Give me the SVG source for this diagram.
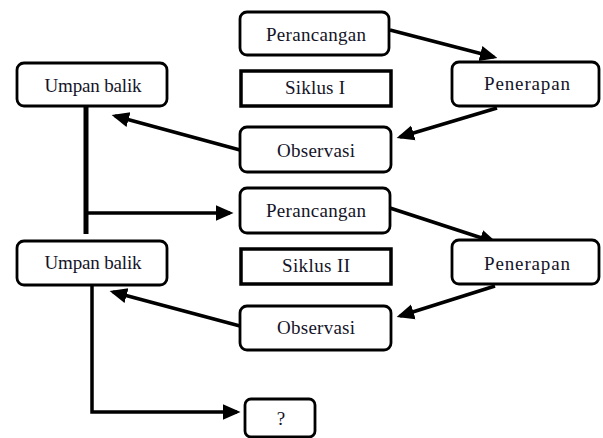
<svg xmlns="http://www.w3.org/2000/svg" width="603" height="438" viewBox="0 0 603 438">
<style>
.box{fill:#fff;stroke:#000;stroke-width:2.8}
.sq{fill:#fff;stroke:#000;stroke-width:3.5}
.t{font-family:"Liberation Serif","Times New Roman",serif;font-size:19px;fill:#141428;text-anchor:middle}
.ln{fill:none;stroke:#000;stroke-width:3.5}
.vl{fill:none;stroke:#000;stroke-width:5}
</style>
<defs>
<marker id="ah" markerWidth="5" markerHeight="5" refX="4" refY="2.5" orient="auto" markerUnits="strokeWidth">
<path d="M0,0.3 L5,2.5 L0,4.7 z" fill="#000"/>
</marker>
</defs>
<rect width="603" height="438" fill="#fff"/>

<g id="connectors">
<line class="ln" x1="390" y1="30" x2="494" y2="57" marker-end="url(#ah)"/>
<line class="ln" x1="497" y1="108" x2="400" y2="137" marker-end="url(#ah)"/>
<line class="ln" x1="240" y1="150" x2="115" y2="116" marker-end="url(#ah)"/>
<line class="vl" x1="86" y1="106" x2="86" y2="234"/>
<polyline class="ln" points="86,213 230,213" marker-end="url(#ah)"/>
<line class="ln" x1="390" y1="208" x2="494" y2="242" marker-end="url(#ah)"/>
<line class="ln" x1="495" y1="286" x2="400" y2="316" marker-end="url(#ah)"/>
<line class="ln" x1="240" y1="326" x2="113" y2="292" marker-end="url(#ah)"/>
<polyline class="ln" points="92,286 92,412 237,412" marker-end="url(#ah)"/>
</g>

<g id="perancangan1">
<rect class="box" x="240" y="12" width="149" height="43" rx="7"/>
<text class="t" x="316" y="41" textLength="100">Perancangan</text>
</g>
<g id="siklus1">
<rect class="sq" x="241" y="71" width="150" height="35"/>
<text class="t" x="315" y="94" textLength="60">Siklus I</text>
</g>
<g id="penerapan1">
<rect class="box" x="452" y="62" width="147" height="44" rx="7"/>
<text class="t" x="527" y="90" textLength="86">Penerapan</text>
</g>
<g id="observasi1">
<rect class="box" x="240" y="127" width="151" height="45" rx="7"/>
<text class="t" x="316" y="157" textLength="78">Observasi</text>
</g>
<g id="umpanbalik1">
<rect class="box" x="17" y="63" width="150" height="43" rx="7"/>
<text class="t" x="93" y="92" textLength="97">Umpan balik</text>
</g>

<g id="perancangan2">
<rect class="box" x="240" y="188" width="150" height="45" rx="7"/>
<text class="t" x="316" y="217" textLength="100">Perancangan</text>
</g>
<g id="siklus2">
<rect class="sq" x="241" y="249" width="150" height="35"/>
<text class="t" x="316" y="272" textLength="68">Siklus II</text>
</g>
<g id="penerapan2">
<rect class="box" x="452" y="240" width="147" height="44" rx="7"/>
<text class="t" x="527" y="270" textLength="86">Penerapan</text>
</g>
<g id="observasi2">
<rect class="box" x="240" y="306" width="151" height="44" rx="7"/>
<text class="t" x="316" y="334" textLength="78">Observasi</text>
</g>
<g id="umpanbalik2">
<rect class="box" x="17" y="241" width="150" height="44" rx="7"/>
<text class="t" x="93" y="269" textLength="97">Umpan balik</text>
</g>

<g id="question">
<rect class="box" x="245" y="399" width="70" height="38" rx="6"/>
<text class="t" x="281" y="425" font-size="16">?</text>
</g>
</svg>
